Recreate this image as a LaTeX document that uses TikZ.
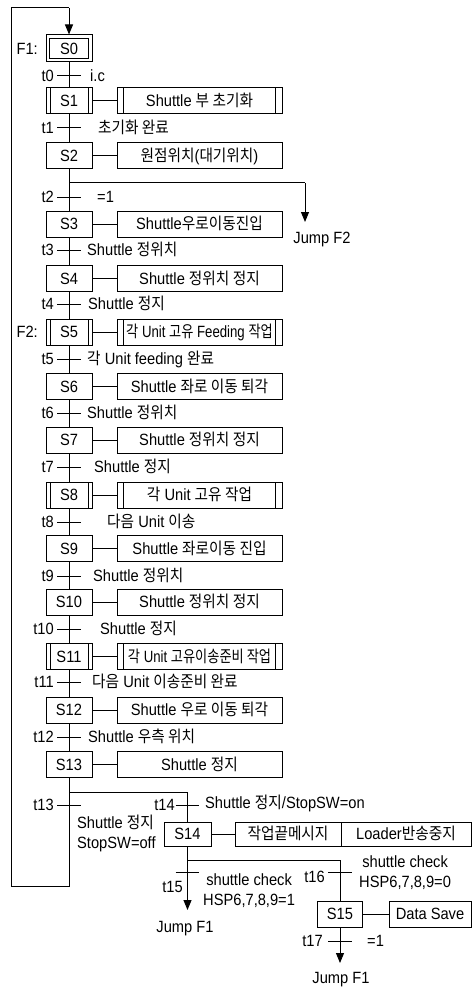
\documentclass[tikz,border=0pt]{standalone}
\usepackage{fontspec}
\usepackage{graphicx}
\setmainfont[FakeStretch=0.9]{Liberation Sans}
\newfontfamily\krfont[FakeStretch=0.9]{Noto Sans CJK KR}
\newcommand\KO[1]{{\krfont #1}}
\usetikzlibrary{arrows.meta}
\tikzset{
  every node/.style={font=\fontsize{16.3pt}{20pt}\selectfont},
  sfcline/.style={line width=1pt, draw=black},
  flowarrow/.style={sfcline, -{Triangle[length=10pt,width=8pt]}},
  stepbox/.style={draw, line width=1pt, minimum width=46pt, minimum height=26pt,
    inner sep=0pt, text height=11.6pt, text depth=0pt},
  initstep/.style={stepbox, minimum height=27pt, path picture={
    \draw[line width=1pt]
      ([shift={(3.5pt,-3.5pt)}]path picture bounding box.north west) rectangle
      ([shift={(-3.5pt,3.5pt)}]path picture bounding box.south east);}},
  innerbars/.style={path picture={
    \draw[line width=1pt]
      ([xshift=#1]path picture bounding box.north west) -- ([xshift=#1]path picture bounding box.south west)
      ([xshift=-#1]path picture bounding box.north east) -- ([xshift=-#1]path picture bounding box.south east);}},
  macrostep/.style={stepbox, innerbars=4pt},
  actbox/.style={draw, line width=1pt, minimum width=165pt, minimum height=26pt,
    inner sep=0pt, text height=11.6pt, text depth=0pt},
  macroact/.style={actbox, innerbars=6.5pt},
  cond/.style={anchor=base west, inner sep=0pt},
  tname/.style={anchor=base east, inner sep=0pt},
  twoline/.style={anchor=west, inner sep=0pt, align=left},
}
\begin{document}
\begin{tikzpicture}[x=1pt, y=-1pt]
\useasboundingbox (0,0) rectangle (476,987);

% ---------- steps ----------
\node[initstep]  (S0)  at (69,48.5)  {S0};
\node[macrostep] (S1)  at (69,100.5) {S1};
\node[stepbox]   (S2)  at (69,156)   {S2};
\node[stepbox]   (S3)  at (69,224)   {S3};
\node[stepbox]   (S4)  at (69,278.5) {S4};
\node[macrostep] (S5)  at (69,332)   {S5};
\node[stepbox]   (S6)  at (69,386.5) {S6};
\node[stepbox]   (S7)  at (69,440)   {S7};
\node[macrostep] (S8)  at (69,495)   {S8};
\node[stepbox]   (S9)  at (69,548.5) {S9};
\node[stepbox]   (S10) at (69,602)   {S10};
\node[macrostep] (S11) at (69,656.5) {S11};
\node[stepbox]   (S12) at (69,710)   {S12};
\node[stepbox]   (S13) at (69,764.5) {S13};
\node[stepbox, minimum width=47pt, minimum height=24pt] (S14) at (187.5,834) {S14};
\node[stepbox, minimum width=45pt] (S15) at (340,914) {S15};

% ---------- actions ----------
\node[macroact] (A1)  at (199.5,100.5) {Shuttle \KO{부 초기화}};
\node[actbox]   (A2)  at (199.5,156)   {\KO{원점위치}(\KO{대기위치})};
\node[actbox]   (A3)  at (199.5,224)   {Shuttle\KO{우로이동진입}};
\node[actbox]   (A4)  at (199.5,278.5) {Shuttle \KO{정위치 정지}};
\node[macroact] (A5)  at (199.5,332)   {\scalebox{0.9}[1]{\KO{각} Unit \KO{고유} Feeding \KO{작업}}};
\node[actbox]   (A6)  at (199.5,386.5) {Shuttle \KO{좌로 이동 퇴각}};
\node[actbox]   (A7)  at (199.5,440)   {Shuttle \KO{정위치 정지}};
\node[macroact] (A8)  at (199.5,495)   {\KO{각} Unit \KO{고유 작업}};
\node[actbox]   (A9)  at (199.5,548.5) {Shuttle \KO{좌로이동 진입}};
\node[actbox]   (A10) at (199.5,602)   {Shuttle \KO{정위치 정지}};
\node[macroact] (A11) at (199.5,656.5) {\scalebox{0.9}[1]{\KO{각} Unit \KO{고유이송준비 작업}}};
\node[actbox]   (A12) at (199.5,710)   {Shuttle \KO{우로 이동 퇴각}};
\node[actbox]   (A13) at (199.5,764.5) {Shuttle \KO{정지}};
\node[actbox, minimum width=106pt, minimum height=24pt] (A14a) at (288,834) {\KO{작업끝메시지}};
\node[actbox, minimum width=130pt, minimum height=24pt] (A14b) at (406,834) {Loader\KO{반송중지}};
\node[actbox, minimum width=82pt] (A15) at (430,914) {Data Save};

% ---------- labels F1 / F2 ----------
\node[tname] (F1) at (38,54.3)  {F1:};
\node[tname] (F2) at (38,337.8) {F2:};

% ---------- junction coordinates ----------
\coordinate (TT)  at (69,8);
\coordinate (LT)  at (11,8);
\coordinate (LL)  at (11,886);
\coordinate (LB)  at (69,886);
\coordinate (B2)  at (69,183);
\coordinate (B2r) at (305,183);
\coordinate (J2)  at (305,222);
\coordinate (B13) at (69,792);
\coordinate (B13r) at (187.5,792);
\coordinate (B14) at (187.5,860);
\coordinate (B14r) at (340,860);
\coordinate (J15) at (187.5,910);
\coordinate (J17) at (340,963);

% transition points
\coordinate (T0)  at (69,76);
\coordinate (T1)  at (69,128);
\coordinate (T2)  at (69,197);
\coordinate (T3)  at (69,250);
\coordinate (T4)  at (69,304);
\coordinate (T5)  at (69,359);
\coordinate (T6)  at (69,413);
\coordinate (T7)  at (69,467);
\coordinate (T8)  at (69,522);
\coordinate (T9)  at (69,576);
\coordinate (T10) at (69,629);
\coordinate (T11) at (69,682);
\coordinate (T12) at (69,737);
\coordinate (T13) at (69,805);
\coordinate (T14) at (187.5,805);
\coordinate (T15) at (187.5,872);
\coordinate (T16) at (340,872);
\coordinate (T17) at (340,941);

% ---------- spine ----------
\foreach \a/\b in {S0/S1,S1/S2,S2/S3,S3/S4,S4/S5,S5/S6,S6/S7,S7/S8,S8/S9,S9/S10,S10/S11,S11/S12,S12/S13}
  \draw[sfcline] (\a) -- (\b);
\foreach \i in {1,...,13}
  \draw[sfcline] (S\i) -- (A\i);
\draw[sfcline] (S14) -- (A14a);
\draw[sfcline] (S15) -- (A15);

% loop back to S0
\draw[sfcline] (S13) -- (LB) -- (LL) -- (LT) -- (TT);
\draw[flowarrow] (TT) -- (S0.north);

% jump F2 branch
\draw[sfcline] (B2) -- (B2r);
\draw[flowarrow] (B2r) -- (J2);
\node[anchor=base, inner sep=0pt] (JF2) at (322,243.8) {Jump F2};

% S13 divergence
\draw[sfcline] (B13) -- (B13r) -- (S14);
% S14 divergence
\draw[sfcline] (S14) -- (B14) -- (B14r) -- (S15);
\draw[flowarrow] (B14) -- (J15);
\node[anchor=base, inner sep=0pt] (JF1a) at (185,932.8) {Jump F1};
\draw[flowarrow] (S15) -- (J17);
\node[anchor=base, inner sep=0pt] (JF1b) at (341,983.5) {Jump F1};

% ---------- ticks ----------
\foreach \t in {T0,T1,T2,T3,T4,T5,T6,T7,T8,T9,T10,T11,T12,T13,T14,T15,T16,T17}
  \draw[sfcline] ([xshift=-12pt]\t) -- ([xshift=11.5pt]\t);

% ---------- transition names ----------
\node[tname] (n0)  at (54,81.8)  {t0};
\node[tname] (n1)  at (54,133.8) {t1};
\node[tname] (n2)  at (54,202.8) {t2};
\node[tname] (n3)  at (54,255.8) {t3};
\node[tname] (n4)  at (54,309.8) {t4};
\node[tname] (n5)  at (54,364.8) {t5};
\node[tname] (n6)  at (54,418.8) {t6};
\node[tname] (n7)  at (54,472.8) {t7};
\node[tname] (n8)  at (54,527.8) {t8};
\node[tname] (n9)  at (54,581.8) {t9};
\node[tname] (n10) at (54,634.8) {t10};
\node[tname] (n11) at (54,687.8) {t11};
\node[tname] (n12) at (54,742.8) {t12};
\node[tname] (n13) at (54,810.8) {t13};
\node[tname] (n14) at (175,810.8) {t14};
\node[tname] (n15) at (183,892.8) {t15};
\node[tname] (n16) at (325,882.8) {t16};
\node[tname] (n17) at (323,946.8) {t17};

% ---------- transition conditions ----------
\node[cond] (c0)  at (90,81.8)   {i.c};
\node[cond] (c1)  at (98,133.8)  {\KO{초기화 완료}};
\node[cond] (c2)  at (97,202.8)  {=1};
\node[cond] (c3)  at (87,255.8)  {Shuttle \KO{정위치}};
\node[cond] (c4)  at (88,309.8)  {Shuttle \KO{정지}};
\node[cond] (c5)  at (87,364.8)  {\KO{각} Unit feeding \KO{완료}};
\node[cond] (c6)  at (87,418.8)  {Shuttle \KO{정위치}};
\node[cond] (c7)  at (94,472.8)  {Shuttle \KO{정지}};
\node[cond] (c8)  at (107,527.8) {\KO{다음} Unit \KO{이송}};
\node[cond] (c9)  at (93,581.8)  {Shuttle \KO{정위치}};
\node[cond] (c10) at (100,634.8) {Shuttle \KO{정지}};
\node[cond] (c11) at (92,687.8)  {\KO{다음} Unit \KO{이송준비 완료}};
\node[cond] (c12) at (88,742.8)  {Shuttle \KO{우측 위치}};
\node[twoline] (c13) at (77,833) {Shuttle \KO{정지}\\StopSW=off};
\node[cond] (c14) at (205,808.8) {Shuttle \KO{정지}/StopSW=on};
\node[anchor=west, inner sep=0pt, align=center] (c15) at (203,891) {shuttle check\\HSP6,7,8,9=1};
\node[anchor=west, inner sep=0pt, align=center] (c16) at (359,873) {shuttle check\\HSP6,7,8,9=0};
\node[cond] (c17) at (367,946.8) {=1};
\end{tikzpicture}
\end{document}
